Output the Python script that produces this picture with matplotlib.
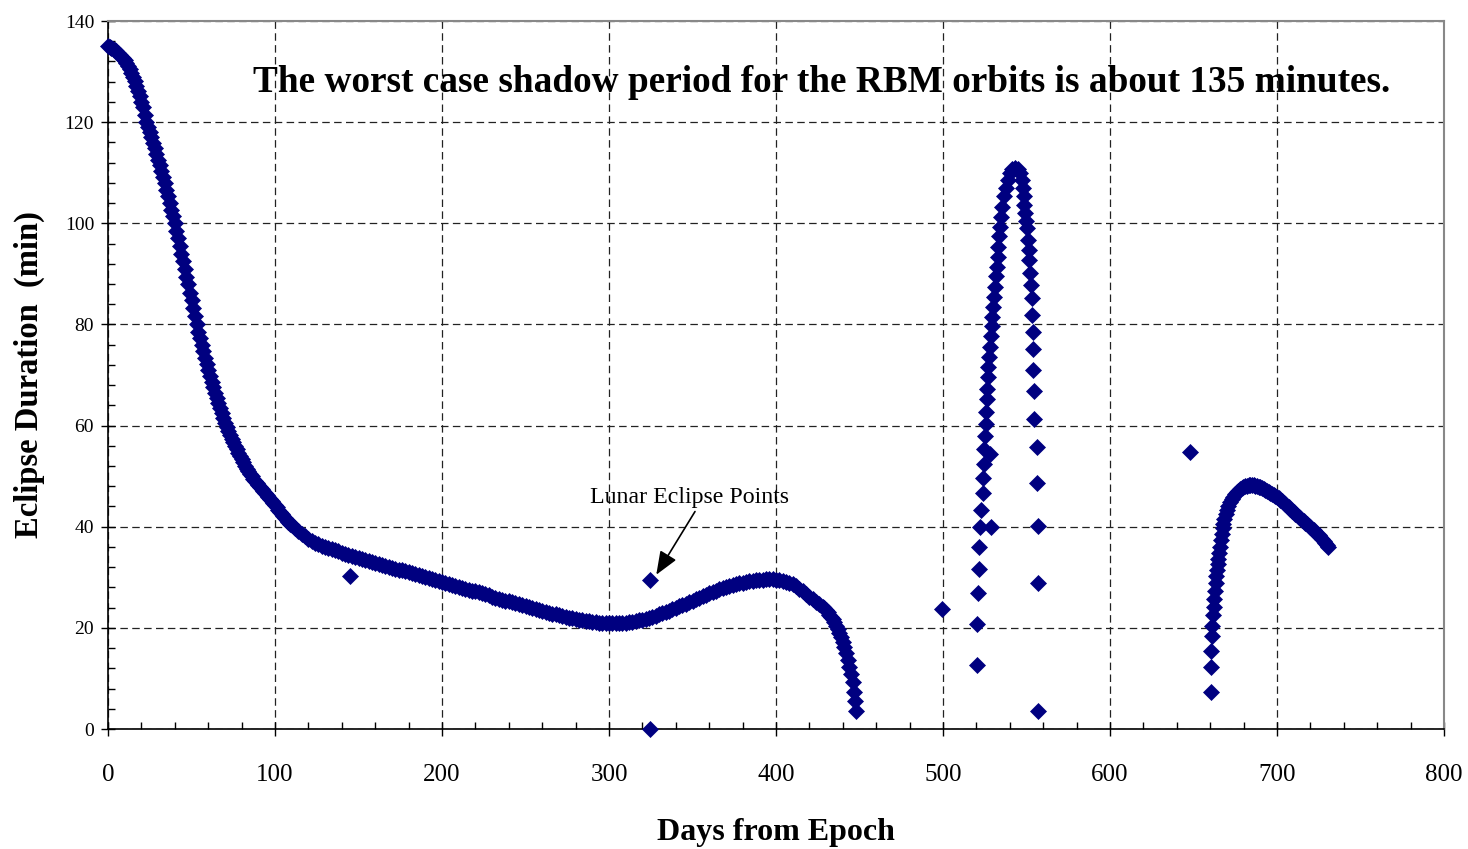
import numpy as np
import matplotlib
matplotlib.use("Agg")
import matplotlib.pyplot as plt
from matplotlib.ticker import MultipleLocator

plt.rcParams['font.family'] = ['Liberation Serif', 'DejaVu Serif']

# ---------------- data ----------------
# Segment 1: daily 0..110
seg1a_days = list(range(0, 111))
seg1a_vals = [
    135.0, 134.9, 134.7, 134.5, 134.3, 134.0, 133.7, 133.3, 132.9, 132.6,
    132.2, 131.7, 131.1, 130.5, 129.8, 129.0, 128.1, 127.1, 126.1, 125.1,
    124.0, 122.9, 121.5, 120.0, 119.0, 118.0, 117.0, 115.9, 114.8, 113.7,
    112.6, 111.5, 110.3, 109.1, 107.9, 106.6, 105.3, 104.0, 102.7, 101.4,
    100.0, 98.5, 97.0, 95.5, 94.0, 92.5, 91.0, 89.4, 87.9, 86.3,
    84.8, 83.2, 81.6, 80.0, 78.6, 77.3, 76.0, 74.7, 73.4, 72.2,
    71.0, 69.8, 68.7, 67.6, 66.5, 65.4, 64.4, 63.4, 62.4, 61.5,
    60.6, 59.8, 59.0, 58.2, 57.4, 56.7, 56.0, 55.3, 54.6, 53.9,
    53.3, 52.7, 52.1, 51.5, 51.0, 50.5, 50.0, 49.5, 49.0, 48.6,
    48.2, 47.8, 47.4, 47.0, 46.6, 46.2, 45.8, 45.4, 45.0, 44.6,
    44.2, 43.8, 43.4, 43.0, 42.6, 42.2, 41.8, 41.4, 41.0, 40.6,
    40.3,
]
# Segment 1: every 2 days 112..428
seg1b_days = list(range(112, 429, 2))
seg1b_vals = [
    39.7, 39.1, 38.6, 38.1, 37.6, 37.2, 36.8, 36.5, 36.2, 35.9,
    35.7, 35.5, 35.3, 35.1, 34.9, 34.7, 34.5, 34.3, 34.1, 33.9,
    33.7, 33.5, 33.3, 33.1, 32.9, 32.7, 32.5, 32.3, 32.1, 31.9,
    31.7, 31.5, 31.4, 31.2, 31.0, 30.8, 30.6, 30.4, 30.2, 30.0,
    29.8, 29.6, 29.4, 29.3, 29.1, 28.9, 28.7, 28.5, 28.3, 28.1,
    27.9, 27.7, 27.5, 27.3, 27.2, 27.0, 26.8, 26.6, 26.4, 26.2,
    26.0, 25.8, 25.6, 25.4, 25.3, 25.1, 24.9, 24.7, 24.5, 24.3,
    24.1, 23.9, 23.8, 23.6, 23.4, 23.2, 23.0, 22.8, 22.7, 22.5,
    22.3, 22.2, 22.0, 21.9, 21.8, 21.6, 21.5, 21.4, 21.3, 21.2,
    21.1, 21.0, 21.0, 20.9, 20.9, 20.9, 20.9, 20.9, 21.0, 21.0,
    21.1, 21.2, 21.3, 21.5, 21.6, 21.8, 22.0, 22.2, 22.4, 22.7,
    22.9, 23.2, 23.4, 23.7, 24.0, 24.3, 24.6, 24.8, 25.1, 25.4,
    25.7, 26.0, 26.3, 26.5, 26.8, 27.1, 27.3, 27.6, 27.8, 28.0,
    28.2, 28.4, 28.6, 28.8, 28.9, 29.1, 29.2, 29.3, 29.4, 29.5,
    29.5, 29.6, 29.6, 29.6, 29.5, 29.5, 29.3, 29.1, 28.9, 28.6,
    28.2, 27.7, 27.2, 26.7, 26.2, 25.7, 25.2, 24.7, 24.2,
]
# Segment 1: tail 429..448
seg1c_days = [429, 430, 431, 432, 433, 434, 435, 436, 437, 438, 439, 440,
              441, 442, 443, 444, 445, 446, 447, 447.6, 448.2]
seg1c_vals = [23.9, 23.5, 23.1, 22.6, 22.2, 21.7, 21.1, 20.4, 19.7, 18.9, 18.1, 17.2,
              16.2, 15.0, 13.7, 12.3, 10.8, 9.2, 7.4, 5.5, 3.5]

# Segment 2: the tall peak near day 540
seg2_days = [520.6, 520.6, 521.2, 521.6, 521.6, 522.2, 522.6, 523.8, 523.8, 524.5,
             524.7, 525.1, 525.5, 525.5, 526.1, 526.5, 527.1, 527.1, 527.7, 528.1,
             528.7, 529.1, 529.5, 530.1, 530.7, 531.1, 531.7, 532.1, 532.7, 533.1,
             533.7, 534.1, 534.7, 535.5, 536.5, 537.5, 538.7, 540.1, 541.5, 543.1,
             544.7, 546.1, 547.1, 547.7, 548.3, 548.7, 549.1, 549.7, 550.1, 551.0,
             551.2, 551.6, 552.2, 552.6, 553.0, 553.0, 554.0, 554.0, 554.0, 554.6,
             554.6, 556.0, 556.0, 557.0, 557.0, 557.0, 528.4, 528.5]
seg2_vals = [12.7, 20.8, 26.9, 31.7, 36.0, 40.0, 43.4, 46.6, 49.7, 52.5,
             55.3, 57.9, 60.4, 62.7, 65.2, 67.3, 69.6, 71.6, 73.6, 75.6,
             77.7, 79.6, 81.5, 83.5, 85.5, 87.5, 89.5, 91.4, 93.4, 95.4,
             97.4, 99.3, 101.3, 103.3, 105.3, 106.9, 108.6, 109.9, 110.7, 110.9,
             110.7, 109.9, 108.6, 106.9, 105.3, 103.6, 102.0, 100.4, 99.0, 96.7,
             94.7, 92.7, 90.1, 87.8, 85.2, 81.9, 78.6, 75.1, 71.0, 66.8,
             61.3, 55.7, 48.7, 40.2, 28.9, 3.6, 54.3, 40.0]

# Segment 3: hump near day 685
seg3_days = [660.3, 660.3, 660.4, 661.0, 661.3, 661.7, 662.0, 662.4, 662.8, 663.2,
             663.6, 664.0, 664.4, 664.9, 665.4, 665.9, 666.4, 666.9, 667.4, 667.9,
             668.5, 669.2, 669.9, 670.8, 671.8, 672.8, 673.8, 674.8, 675.8, 676.8,
             677.8, 678.8, 679.8, 680.8, 682, 683, 684, 685, 686, 687,
             688, 689, 690, 691, 692, 693, 694, 695, 696, 697,
             698, 699, 700, 701, 702, 703, 704, 705, 706, 707,
             708, 709, 710, 711, 712, 713, 714, 715, 716, 717,
             718, 719, 720, 721, 722, 723, 724, 725, 726, 727,
             728, 729, 730, 730.6]
seg3_vals = [7.4, 12.3, 15.4, 18.3, 20.4, 22.5, 24.2, 25.8, 27.3, 28.8,
             30.3, 31.5, 32.6, 33.6, 34.8, 36.0, 37.4, 38.6, 39.7, 40.6,
             41.5, 42.5, 43.3, 44.1, 44.8, 45.4, 45.9, 46.4, 46.8, 47.1,
             47.4, 47.7, 47.9, 48.0, 48.1, 48.2, 48.2, 48.2, 48.2, 48.1,
             48.0, 47.9, 47.8, 47.6, 47.5, 47.3, 47.1, 46.9, 46.7, 46.5,
             46.3, 46.1, 45.9, 45.6, 45.3, 45.0, 44.7, 44.4, 44.1, 43.8,
             43.5, 43.2, 42.9, 42.6, 42.3, 42.0, 41.7, 41.4, 41.1, 40.8,
             40.5, 40.2, 39.9, 39.6, 39.3, 39.0, 38.6, 38.3, 37.9, 37.5,
             37.1, 36.7, 36.3, 36.0]

# isolated points (incl. lunar eclipse points)
iso_days = [145.0, 324.3, 324.3, 499.3, 648.2]
iso_vals = [30.3, 29.4, 0.0, 23.7, 54.8]

title_text = "The worst case shadow period for the RBM orbits is about 135 minutes."
annot_text = "Lunar Eclipse Points"
x_label = "Days from Epoch"
y_label = "Eclipse Duration  (min)"

# ---------------- figure ----------------
fig = plt.figure(figsize=(14.68, 8.49), dpi=100)
ax = fig.add_axes([108 / 1468, 1 - 729 / 849, (1444 - 108) / 1468, (729 - 21) / 849])

navy = '#000080'
mk = dict(linestyle='none', marker='D', markersize=8.6, color=navy,
          markeredgecolor=navy, markeredgewidth=0.5, clip_on=False, zorder=3)
days_all = seg1a_days + seg1b_days + seg1c_days + seg2_days + seg3_days + iso_days
vals_all = seg1a_vals + seg1b_vals + seg1c_vals + seg2_vals + seg3_vals + iso_vals
ax.plot(days_all, vals_all, **mk)

ax.set_xlim(0, 800)
ax.set_ylim(0, 140)
ax.xaxis.set_major_locator(MultipleLocator(100))
ax.xaxis.set_minor_locator(MultipleLocator(20))
ax.yaxis.set_major_locator(MultipleLocator(20))
ax.yaxis.set_minor_locator(MultipleLocator(4))

ax.tick_params(axis='both', which='major', direction='inout', length=10, width=1.0, color='black')
ax.tick_params(axis='both', which='minor', direction='in', length=5, width=1.0, color='black')
ax.tick_params(axis='x', which='major', labelsize=18, pad=20)
ax.tick_params(axis='y', which='major', labelsize=14, pad=5)

ax.grid(True, which='major', color='#222222', linestyle=(0, (6, 3.5)), linewidth=0.9)
ax.set_axisbelow(True)

for s in ['left', 'bottom']:
    ax.spines[s].set_color('black')
    ax.spines[s].set_linewidth(1.2)
for s in ['top', 'right']:
    ax.spines[s].set_color('#888888')
    ax.spines[s].set_linewidth(1.5)

ax.set_xlabel(x_label, fontsize=23, fontweight='bold', labelpad=23)
ax.set_ylabel(y_label, fontsize=23.5, fontweight='bold', labelpad=14)

ax.text(0.534, 0.913, title_text, transform=ax.transAxes, ha='center', va='center',
        fontsize=26.8, fontweight='bold', zorder=5)

ax.text(348.5, 45.8, annot_text, ha='center', va='center', fontsize=17.2, zorder=5)
ax.annotate('', xy=(328.3, 30.5), xytext=(351.5, 43.0),
            arrowprops=dict(arrowstyle='-|>,head_length=0.65,head_width=0.26',
                            mutation_scale=22, color='black', lw=1.2,
                            shrinkA=0, shrinkB=0), zorder=5)

fig.savefig('out.png', dpi=100, facecolor='white')
